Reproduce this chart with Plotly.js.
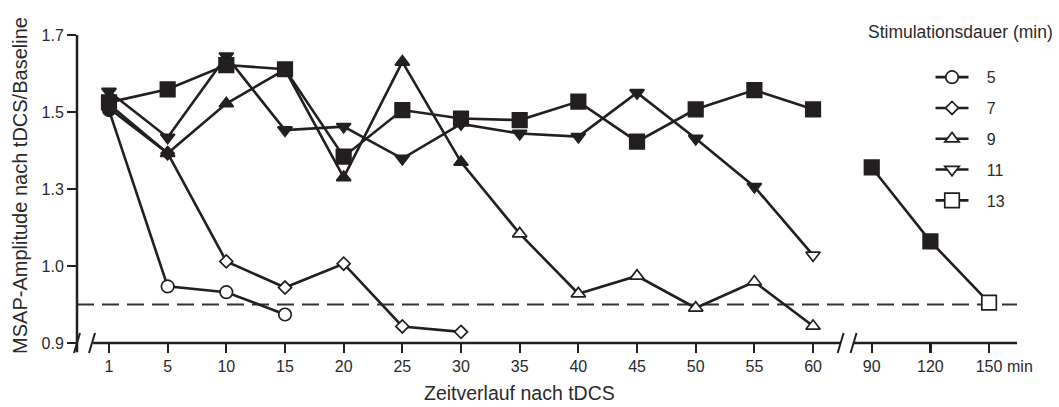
<!DOCTYPE html>
<html>
<head>
<meta charset="utf-8">
<script src="https://cdn.plot.ly/plotly-3.0.1.min.js"></script>
<style>html,body{margin:0;padding:0;background:#fff;}#chart{width:1059px;height:407px;}</style>
</head>
<body>
<div id="chart"></div>
<script>
// ---- data ----
const categories = ["1","5","10","15","20","25","30","35","40","45","50","55","60","90","120","150"];
const yTickVals  = [0.9, 1.1, 1.3, 1.5, 1.7];
const yTickText  = ["0.9", "1.0", "1.3", "1.5", "1.7"];
const baseline   = 1.0;

const names = ["5", "7", "9", "11", "13"];
const s5  = [1.505, 1.047, 1.032, 0.974];
const s7  = [1.51, 1.393, 1.112, 1.044, 1.106, 0.943, 0.929];
const s9  = [1.52, 1.393, 1.522, 1.61, 1.33, 1.63, 1.37, 1.184, 1.028, 1.074, 0.991, 1.059, 0.944];
const s11 = [1.553, 1.434, 1.645, 1.453, 1.462, 1.379, 1.469, 1.444, 1.436, 1.55, 1.431, 1.306, 1.128];
const s13 = [1.525, 1.559, 1.622, 1.611, 1.384, 1.505, 1.483, 1.479, 1.527, 1.423, 1.507, 1.557, 1.507, 1.356, 1.164, 1.005];
// 1 = filled (black) marker, 0 = open marker
const f5  = [1, 0, 0, 0];
const f7  = [1, 1, 0, 0, 0, 0, 0];
const f9  = [1, 1, 1, 1, 1, 1, 1, 0, 0, 0, 0, 0, 0];
const f11 = [1, 1, 1, 1, 1, 1, 1, 1, 1, 1, 1, 1, 0];
const f13 = [1, 1, 1, 1, 1, 1, 1, 1, 1, 1, 1, 1, 1, 1, 1, 0];
const breakAfter = 12; // axis break between "60" and "90"

// ---- styling ----
const INK = '#231f20';
const idx = categories.map((c, i) => i);
const series = [
  {name: names[0], y: s5,  f: f5,  symbol: 'circle',        size: 12.5},
  {name: names[1], y: s7,  f: f7,  symbol: 'diamond',       size: 10},
  {name: names[2], y: s9,  f: f9,  symbol: 'triangle-up',   size: 12.5},
  {name: names[3], y: s11, f: f11, symbol: 'triangle-down', size: 12.5},
  {name: names[4], y: s13, f: f13, symbol: 'square',        size: 14.5}
];

function seg(s, from, to) {
  return {
    type: 'scatter', mode: 'lines+markers', showlegend: false, cliponaxis: false,
    x: idx.slice(from, to), y: s.y.slice(from, to),
    line: {color: INK, width: 2.6},
    marker: {symbol: s.symbol, size: s.size,
             color: s.f.slice(from, to).map(v => v ? INK : '#ffffff'),
             line: {color: INK, width: 1.7}},
    hoverinfo: 'skip'
  };
}

const traces = [];
series.forEach(s => {
  if (s.y.length > breakAfter + 1) {
    traces.push(seg(s, 0, breakAfter + 1));
    traces.push(seg(s, breakAfter + 1, s.y.length));
  } else {
    traces.push(seg(s, 0, s.y.length));
  }
});
// legend entries (open markers as in the reference key)
series.forEach((s, i) => {
  traces.push({
    type: 'scatter', mode: 'lines+markers', x: [null], y: [null],
    name: '\u00A0\u00A0\u00A0' + s.name, legendgroup: 'g' + i,
    line: {color: INK, width: 2.6},
    marker: {symbol: s.symbol, size: s.size, color: '#ffffff', line: {color: INK, width: 1.7}}
  });
});

const fontFam = '"Liberation Sans", Arial, Helvetica, sans-serif';
const b1 = breakAfter + 0.47, b2 = breakAfter + 0.69;

const shapes = [
  // dashed baseline
  {type: 'line', xref: 'paper', x0: 0, x1: 1, yref: 'y', y0: baseline, y1: baseline,
   line: {color: '#333333', width: 2, dash: '17px,8px'}, layer: 'below'},
  // y axis line (extends slightly below)
  {type: 'line', xref: 'paper', x0: 0, x1: 0, yref: 'paper', y0: -0.03, y1: 1,
   line: {color: INK, width: 2.5}},
  // x axis line, left part
  {type: 'line', xref: 'x', x0: -0.27, x1: b1, yref: 'paper', y0: 0, y1: 0,
   line: {color: INK, width: 2.6}},
  // x axis line, right part
  {type: 'line', xref: 'x', x0: b2, x1: 15.476, yref: 'paper', y0: 0, y1: 0,
   line: {color: INK, width: 2.6}}
];
// break slashes
[[ 'paper', 0 ], [ 'paper', 15/940 ], [ 'x', b1 ], [ 'x', b2 ]].forEach(([ref, xa]) => {
  shapes.push({type: 'line', xref: ref, xsizemode: 'pixel', xanchor: xa, x0: -3, x1: 3,
               yref: 'paper', ysizemode: 'pixel', yanchor: 0, y0: -10, y1: 10,
               line: {color: INK, width: 2}});
});

const layout = {
  width: 1059, height: 407,
  margin: {l: 77, r: 42, t: 35, b: 64},
  paper_bgcolor: '#ffffff', plot_bgcolor: '#ffffff',
  font: {family: fontFam, color: INK, size: 16},
  showlegend: true,
  legend: {x: 0.908, xanchor: 'left', y: 0.918, yanchor: 'top',
           font: {size: 16, color: '#2a2a2a'}, itemwidth: 33,
           tracegroupgap: 7, bgcolor: 'rgba(0,0,0,0)', traceorder: 'grouped'},
  xaxis: {type: 'linear', range: [-0.545, 15.476], tickmode: 'array',
          tickvals: idx, ticktext: categories, ticks: 'outside', ticklen: 9, tickwidth: 2.2,
          tickcolor: INK, showgrid: false, zeroline: false, showline: false,
          tickfont: {size: 16, color: '#2a2a2a'}, fixedrange: true},
  yaxis: {range: [0.9, 1.7], tickmode: 'array', tickvals: yTickVals, ticktext: yTickText,
          ticks: 'outside', ticklen: 9, tickwidth: 2.2, tickcolor: INK,
          showgrid: false, zeroline: false, showline: false,
          tickfont: {size: 16, color: '#2a2a2a'}, fixedrange: true},
  shapes: shapes,
  annotations: [
    {text: 'Zeitverlauf nach tDCS', xref: 'paper', x: (519 - 77) / 940, yref: 'paper', y: 0,
     yshift: -50, xanchor: 'center', yanchor: 'middle', showarrow: false,
     font: {size: 19.5, color: '#2a2a2a'}},
    {text: 'MSAP-Amplitude nach tDCS/Baseline', xref: 'paper', x: (20 - 77) / 940,
     yref: 'paper', y: 0.51, textangle: -90, xanchor: 'center', yanchor: 'middle',
     showarrow: false, font: {size: 20, color: '#2a2a2a'}},
    {text: 'min', xref: 'x', x: 15, xshift: 16, xanchor: 'left', yref: 'paper', y: 0,
     yshift: -23, yanchor: 'middle', showarrow: false, font: {size: 16, color: '#2a2a2a'}},
    {text: 'Stimulationsdauer (min)', xref: 'paper', x: (1055 - 77) / 940, xanchor: 'right',
     yref: 'paper', y: (343 - 32) / 308, yanchor: 'middle', showarrow: false,
     font: {size: 17.5, color: '#2a2a2a'}}
  ]
};

Plotly.newPlot('chart', traces, layout, {displayModeBar: false, staticPlot: true});
</script>
</body>
</html>
